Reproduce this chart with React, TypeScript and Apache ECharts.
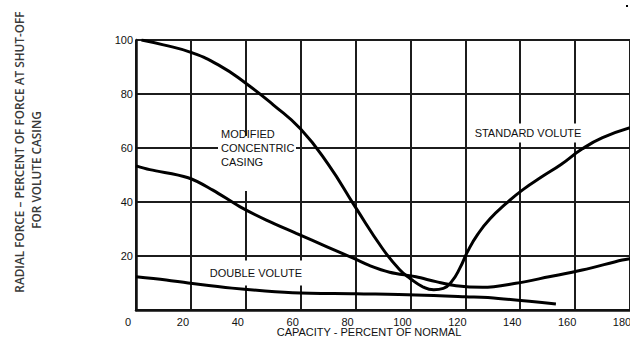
import React, { useEffect, useRef } from "react";
import * as echarts from "echarts";

const xTicks = { min: 0, max: 180, interval: 20 };
const yTicks = { min: 0, max: 100, interval: 20 };

const standardVolute: [number, number][] = [
  [2, 100], [10, 98.2], [20, 95.4], [30, 90.8], [40, 84], [50, 76], [60, 67],
  [70, 54], [80, 38], [90, 22.5], [96, 15], [100, 11.6], [104.5, 8.6],
  [108.5, 7.5], [112, 8], [115, 10.5], [118, 15.5], [121, 22], [124.5, 28],
  [129, 33.8], [135, 39.6], [141, 44.6], [148, 49.4], [155, 54], [162.5, 59.6],
  [170, 63.8], [180, 67.5],
];

const modifiedConcentric: [number, number][] = [
  [0, 53.4], [5, 52], [19, 49], [28, 44.4], [37.8, 38.3], [47.5, 33.3], [58.4, 28.4],
  [69.4, 23.5], [80, 18.8], [85, 16.5], [92.4, 14], [102, 12.3], [109.3, 10.5],
  [116.6, 9], [126.3, 8.4], [138.4, 9.9], [150.5, 12.3], [162.6, 14.8], [177.2, 18.5], [180, 19],
];

const doubleVolute: [number, number][] = [
  [0, 12.3], [11, 11.1], [19, 10], [35, 8.1], [57, 6.4], [80, 6], [102, 5.6],
  [120, 4.9], [132, 4.3], [153, 2.2],
];

const yTitle1 = "RADIAL FORCE \u2013 PERCENT OF FORCE AT SHUT-OFF";
const yTitle2 = "FOR VOLUTE CASING";
const xTitle = "CAPACITY - PERCENT OF NORMAL";

const FONT = "'Liberation Sans', Arial, sans-serif";
const TITLE_FONT = "600 11.8px 'Open Sans', sans-serif";

export default function App() {
  const ref = useRef<HTMLDivElement>(null);
  useEffect(() => {
    if (!ref.current) return;
    const chart = echarts.init(ref.current, undefined, { renderer: "svg" });
    const lineSeries = (name: string, data: [number, number][], smooth: number) => ({
      type: "line",
      name,
      data,
      smooth,
      showSymbol: false,
      lineStyle: { color: "#000", width: 3 },
      z: 3,
    });
    const split = { show: true, lineStyle: { color: "#1c1c1c", width: 2 } };
    chart.setOption({
      animation: false,
      backgroundColor: "#fff",
      grid: { left: 136, right: 0, top: 40, bottom: 28, containLabel: false, outerBoundsMode: "none" },
      xAxis: {
        type: "value",
        ...xTicks,
        axisLine: { show: true, onZero: false, lineStyle: { color: "#111", width: 2.5 } },
        axisTick: { show: false },
        splitLine: split,
        axisLabel: {
          color: "#111",
          fontFamily: FONT,
          fontSize: 11,
          lineHeight: 11,
          margin: 6,
          padding: [0, 16, 0, 0],
        },
      },
      yAxis: {
        type: "value",
        ...yTicks,
        axisLine: { show: true, lineStyle: { color: "#111", width: 2.5 } },
        axisTick: { show: false },
        splitLine: split,
        axisLabel: {
          color: "#111",
          fontFamily: FONT,
          fontSize: 11,
          margin: 3,
          showMinLabel: false,
        },
      },
      graphic: [
        {
          type: "text",
          x: 19,
          y: 152,
          rotation: Math.PI / 2,
          style: {
            text: yTitle1,
            fill: "#3a3a3a",
            font: TITLE_FONT,
            align: "center",
            verticalAlign: "middle",
          },
        },
        {
          type: "text",
          x: 36,
          y: 170,
          rotation: Math.PI / 2,
          style: {
            text: yTitle2,
            fill: "#3a3a3a",
            font: TITLE_FONT,
            align: "center",
            verticalAlign: "middle",
          },
        },
        {
          type: "text",
          x: 369,
          y: 332,
          style: {
            text: xTitle,
            fill: "#111",
            font: "11px " + FONT,
            lineHeight: 11,
            align: "center",
            verticalAlign: "middle",
          },
        },
        {
          type: "rect",
          z: 1,
          shape: { x: 218, y: 136, width: 78, height: 55 },
          style: { fill: "#fff" },
        },
        {
          type: "text",
          z: 2,
          x: 221,
          y: 148,
          style: {
            text: "MODIFIED\nCONCENTRIC\nCASING",
            fill: "#111",
            font: "11px " + FONT,
            lineHeight: 14,
            align: "left",
            verticalAlign: "middle",
          },
        },
        {
          type: "text",
          z: 2,
          x: 528,
          y: 133,
          style: {
            text: "STANDARD VOLUTE",
            fill: "#111",
            font: "11px " + FONT,
            align: "center",
            verticalAlign: "middle",
            backgroundColor: "#fff",
            padding: [4, 2, 4, 2],
          },
        },
        {
          type: "text",
          z: 2,
          x: 256,
          y: 273,
          style: {
            text: "DOUBLE VOLUTE",
            fill: "#111",
            font: "11px " + FONT,
            align: "center",
            verticalAlign: "middle",
            backgroundColor: "#fff",
            padding: [8, 4, 6, 4],
          },
        },
        {
          type: "rect",
          shape: { x: 626, y: 5, width: 2, height: 2 },
          style: { fill: "#000" },
        },
      ],
      series: [
        lineSeries("Standard Volute", standardVolute, 0.5),
        lineSeries("Modified Concentric Casing", modifiedConcentric, 0.35),
        lineSeries("Double Volute", doubleVolute, 0.35),
      ],
    });
    return () => chart.dispose();
  }, []);
  return <div ref={ref} style={{ width: 630, height: 338, position: "absolute", left: 0, top: 0 }} />;
}
